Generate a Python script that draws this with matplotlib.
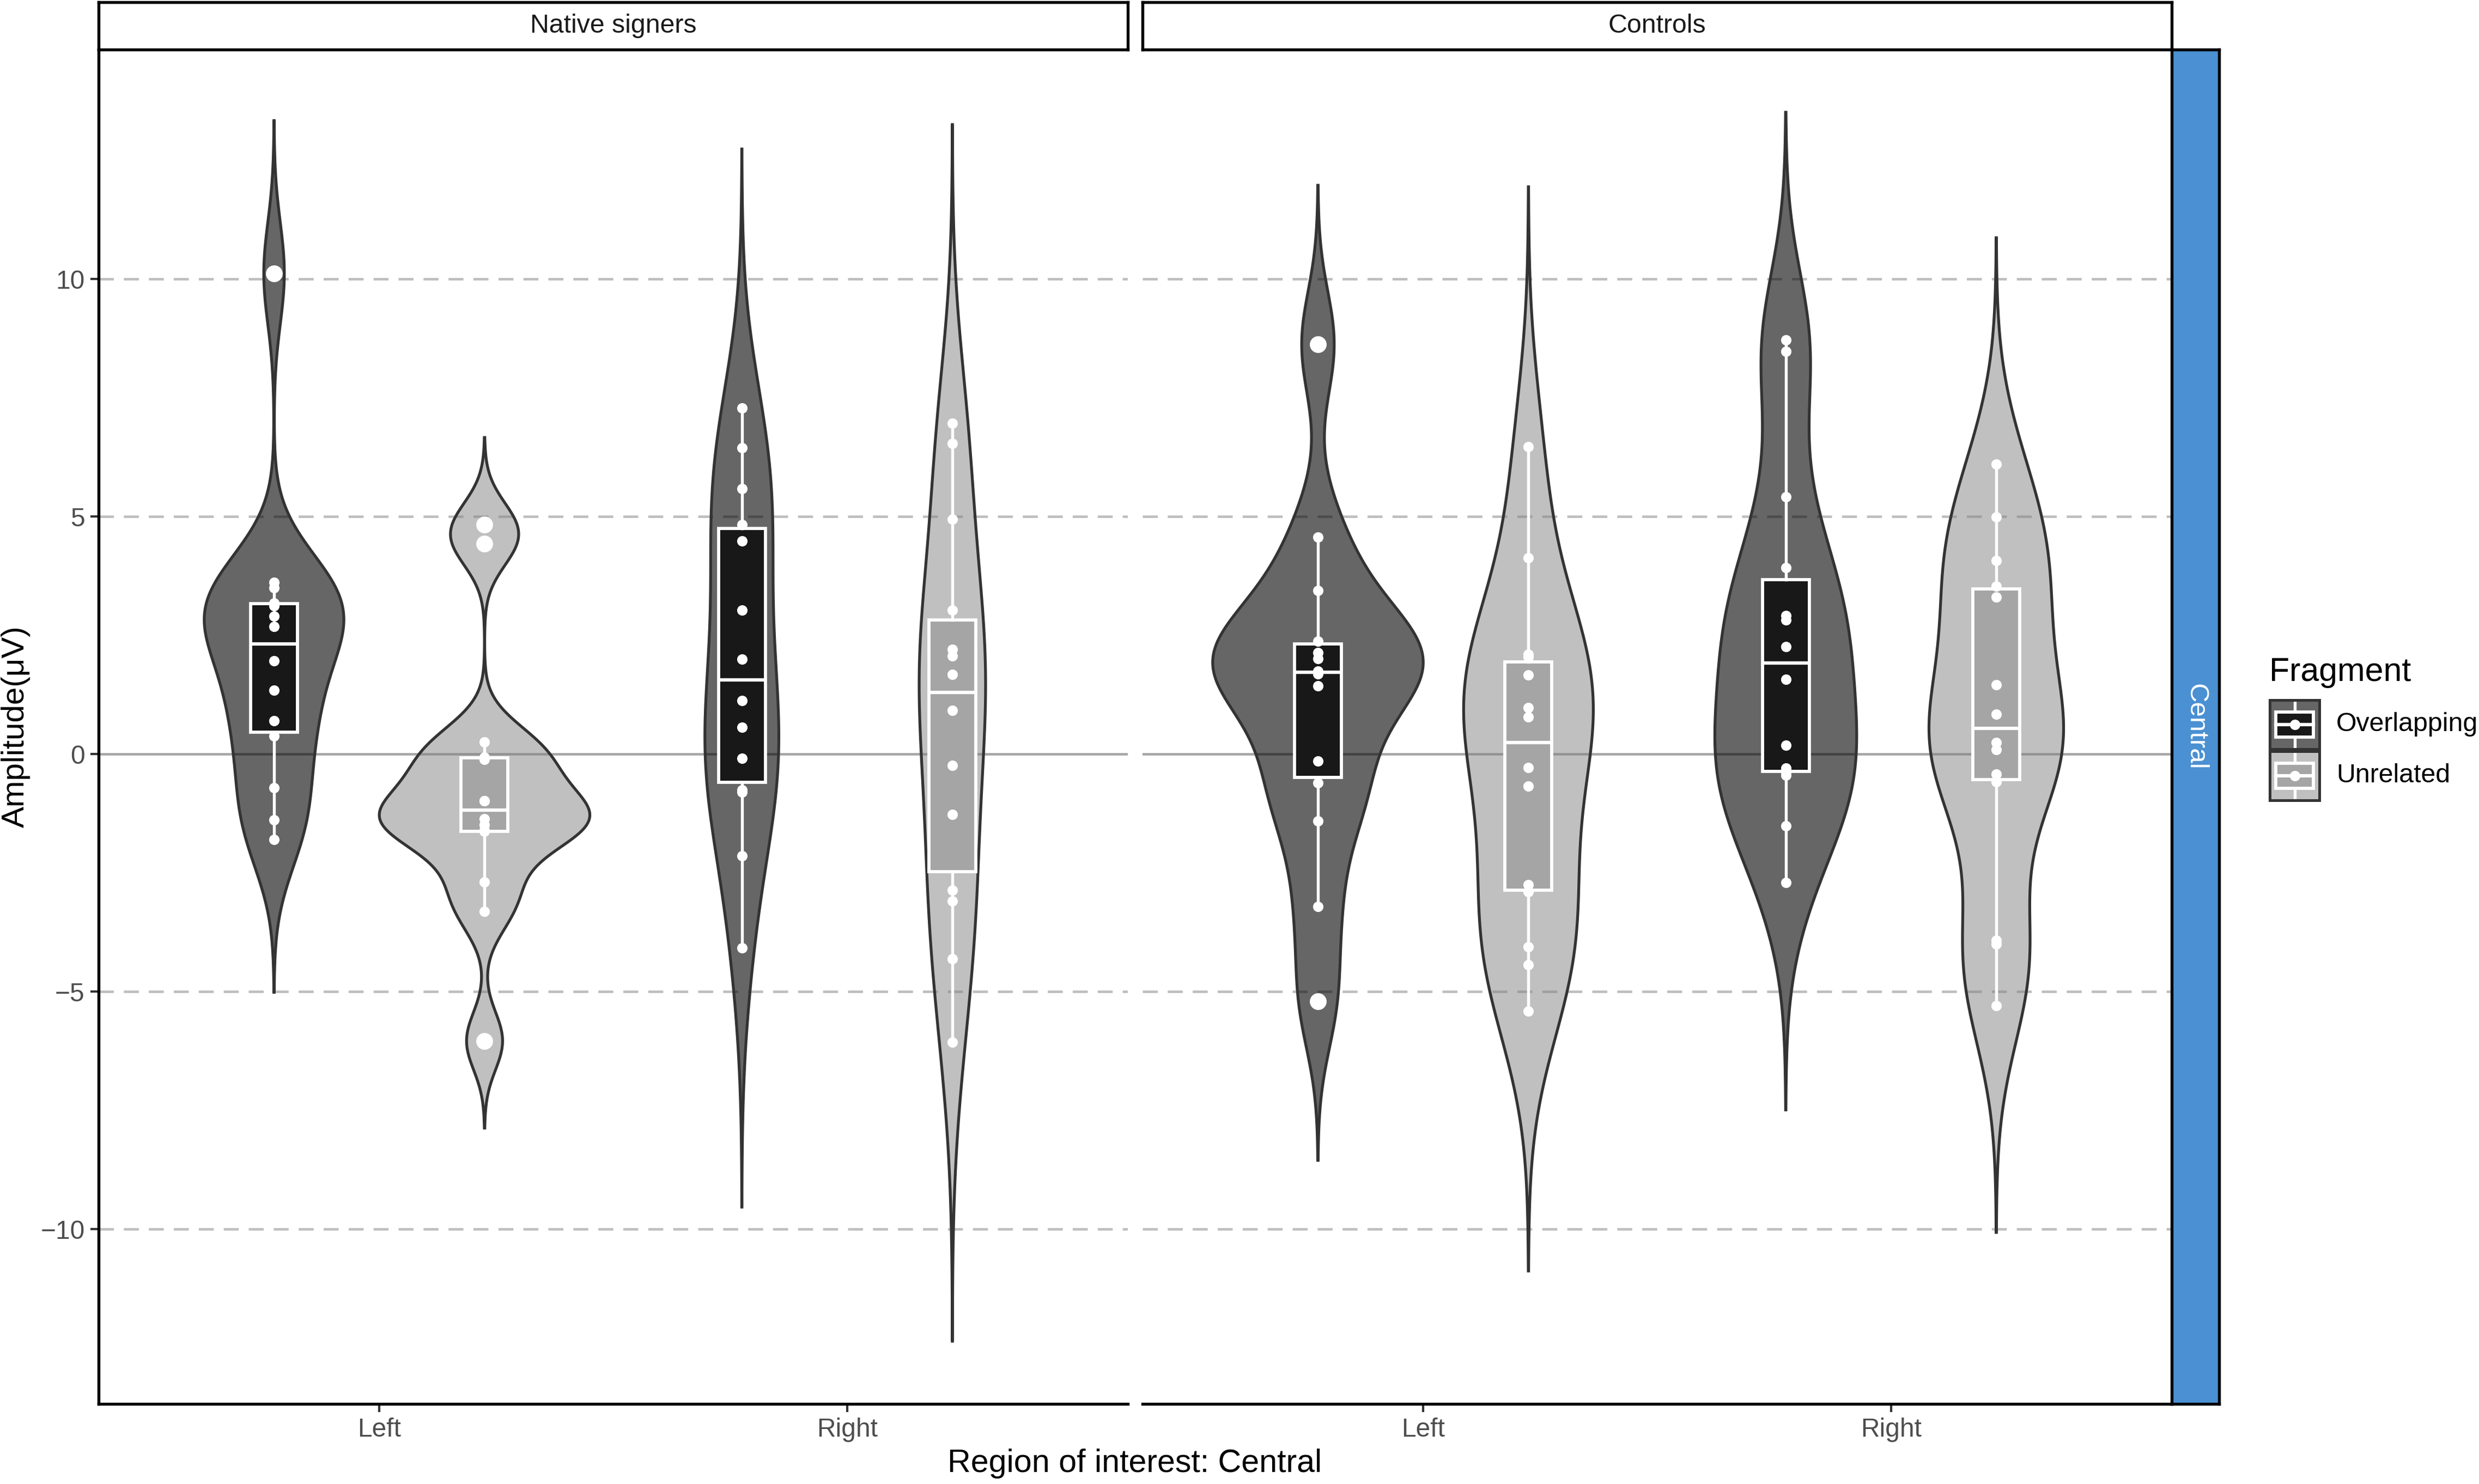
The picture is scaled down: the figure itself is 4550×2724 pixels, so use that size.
import numpy as np
import matplotlib
matplotlib.use("Agg")
import matplotlib.pyplot as plt
from matplotlib.patches import Rectangle, Polygon

plt.rcParams['font.family'] = ['Liberation Sans', 'DejaVu Sans']

# ---------------- data ----------------
groups = ["Native signers", "Controls"]
regions = ["Left", "Right"]
fragments = ["Overlapping", "Unrelated"]

native_left_overlapping = [10.12, 3.61, 3.50, 3.18, 3.12, 2.90, 2.68, 1.96, 1.34, 0.70, 0.38, -0.71, -1.39, -1.80]
native_left_unrelated = [4.83, 4.43, 0.25, -0.07, -0.11, -0.98, -0.99, -1.36, -1.49, -1.60, -1.63, -2.69, -3.31, -6.04]
native_right_overlapping = [7.28, 6.45, 5.59, 4.83, 4.49, 3.03, 2.00, 1.12, 0.56, -0.09, -0.76, -0.80, -2.14, -4.08]
native_right_unrelated = [6.96, 6.54, 4.95, 3.03, 2.20, 2.07, 1.68, 0.92, -0.24, -1.27, -2.87, -3.10, -4.31, -6.07]
controls_left_overlapping = [8.63, 4.57, 3.44, 2.38, 2.13, 2.01, 1.75, 1.69, 1.43, -0.15, -0.61, -1.41, -3.21, -5.21]
controls_left_unrelated = [6.47, 4.13, 2.10, 2.04, 1.66, 0.98, 0.78, -0.29, -0.68, -2.75, -2.90, -4.06, -4.44, -5.41]
controls_right_overlapping = [8.72, 8.48, 5.42, 3.92, 2.92, 2.82, 2.26, 1.57, 0.18, -0.30, -0.38, -0.45, -1.51, -2.70]
controls_right_unrelated = [6.10, 4.99, 4.07, 3.53, 3.30, 1.46, 0.84, 0.24, 0.09, -0.42, -0.58, -3.92, -4.00, -5.30]

panel_data = {
    "Native signers": {
        ("Left", "Overlapping"): native_left_overlapping,
        ("Left", "Unrelated"): native_left_unrelated,
        ("Right", "Overlapping"): native_right_overlapping,
        ("Right", "Unrelated"): native_right_unrelated,
    },
    "Controls": {
        ("Left", "Overlapping"): controls_left_overlapping,
        ("Left", "Unrelated"): controls_left_unrelated,
        ("Right", "Overlapping"): controls_right_overlapping,
        ("Right", "Unrelated"): controls_right_unrelated,
    },
}

y_ticks = [-10, -5, 0, 5, 10]

# ---------------- style ----------------
violin_fill = {"Overlapping": ("#000000", 0.60), "Unrelated": ("#828282", 0.50)}
box_fill = {"Overlapping": "#181818", "Unrelated": "#A5A5A5"}
outline = "#333333"

W, H, DPI = 4550, 2724, 300
fig = plt.figure(figsize=(W / DPI, H / DPI), dpi=DPI)
fig.patch.set_facecolor("white")


def fa(x0, y0, x1, y1):
    return [x0 / W, 1 - y1 / H, (x1 - x0) / W, (y1 - y0) / H]


def nrd0(x):
    x = np.asarray(x, float)
    sd = np.std(x, ddof=1)
    q75, q25 = np.percentile(x, [75, 25])
    lo = min(sd, (q75 - q25) / 1.34)
    if lo <= 0:
        lo = sd if sd > 0 else 1.0
    return 0.9 * lo * len(x) ** (-0.2)


def kde(x, bw, n=512, cut=3):
    x = np.asarray(x, float)
    grid = np.linspace(x.min() - cut * bw, x.max() + cut * bw, n)
    d = np.exp(-0.5 * ((grid[:, None] - x[None, :]) / bw) ** 2).sum(1) / (len(x) * bw * np.sqrt(2 * np.pi))
    return grid, d


panel_x = [(181, 2070), (2097, 3986)]
py0, py1 = 91, 2577
ylim = (-13.68, 14.83)
dodge = 0.225
pt_size = 4.6

for pi, grp in enumerate(groups):
    x0, x1 = panel_x[pi]
    ax = fig.add_axes(fa(x0, py0, x1, py1))
    ax.set_xlim(0.4, 2.6)
    ax.set_ylim(*ylim)
    ax.set_facecolor("white")

    for v in y_ticks:
        if v != 0:
            ax.axhline(v, color="#BEBEBE", lw=1.1, ls=(0, (6, 4)), zorder=0.5)
    ax.axhline(0, color="#A6A6A6", lw=1.1, zorder=0.6)

    dens = {}
    for ri, reg in enumerate(regions):
        for fi, frag in enumerate(fragments):
            vals = panel_data[grp][(reg, frag)]
            g, d = kde(vals, nrd0(vals))
            dens[(reg, frag)] = (g, d)
    maxd = max(d.max() for g, d in dens.values())

    for ri, reg in enumerate(regions):
        for fi, frag in enumerate(fragments):
            pos = (ri + 1) + (-dodge if fi == 0 else dodge)
            g, d = dens[(reg, frag)]
            w = d / maxd * dodge
            xs = np.concatenate([pos - w, (pos + w)[::-1]])
            ys = np.concatenate([g, g[::-1]])
            col, al = violin_fill[frag]
            ax.add_patch(Polygon(np.column_stack([xs, ys]), closed=True, facecolor=col,
                                 alpha=al, edgecolor="none", zorder=1))
            ax.add_patch(Polygon(np.column_stack([xs, ys]), closed=True, facecolor="none",
                                 edgecolor=outline, lw=1.25, zorder=1.1))

            vals = panel_data[grp][(reg, frag)]
            bp = ax.boxplot([vals], positions=[pos], widths=0.1, patch_artist=True,
                            showcaps=False, whis=1.5, manage_ticks=False,
                            boxprops=dict(facecolor=box_fill[frag], edgecolor="white", lw=1.4),
                            medianprops=dict(color="white", lw=1.5),
                            whiskerprops=dict(color="white", lw=1.3),
                            flierprops=dict(marker="o", markerfacecolor="white",
                                            markeredgecolor="white", markersize=6.4))
            for k in ("boxes", "medians", "whiskers", "fliers"):
                for art in bp[k]:
                    art.set_zorder(3)
            ax.scatter(np.full(len(vals), pos), vals, s=pt_size ** 2, c="white",
                       linewidths=0, zorder=4)

    for s in ("top", "right"):
        ax.spines[s].set_visible(False)
    ax.spines["bottom"].set_color("black")
    ax.spines["bottom"].set_linewidth(1.3)
    ax.spines["left"].set_color("black")
    ax.spines["left"].set_linewidth(1.3)

    ax.set_xticks([1, 2])
    ax.set_xticklabels(regions)
    ax.tick_params(axis="x", length=3.6, width=1.0, color="#333333",
                   labelsize=11.5, labelcolor="#4D4D4D", pad=2.5)
    if pi == 0:
        ax.set_yticks(y_ticks)
        ax.set_yticklabels([str(v).replace("-", "\u2212") for v in y_ticks])
        ax.tick_params(axis="y", length=3.6, width=1.0, color="#333333",
                       labelsize=11.5, labelcolor="#4D4D4D", pad=2.5)
    else:
        ax.spines["left"].set_visible(False)
        ax.set_yticks([])

    # top strip
    sax = fig.add_axes(fa(x0, 4, x1, 91))
    sax.set_xticks([]); sax.set_yticks([])
    sax.set_facecolor("white")
    for s in sax.spines.values():
        s.set_color("black"); s.set_linewidth(1.3)
    sax.text(0.5, 0.5, grp, ha="center", va="center", fontsize=11.6, color="#1A1A1A",
             transform=sax.transAxes)

# right strip
rax = fig.add_axes(fa(3986, py0, 4073, py1))
rax.set_xticks([]); rax.set_yticks([])
rax.set_facecolor("#4A90D2")
for s in rax.spines.values():
    s.set_color("black"); s.set_linewidth(1.3)
rax.text(0.5, 0.5, "Central", ha="center", va="center", rotation=-90, fontsize=11.8,
         color="white", transform=rax.transAxes)

# axis titles
fig.text(29 / W, 1 - 1334 / H, "Amplitude(\u03bcV)", rotation=90, ha="center", va="center",
         fontsize=14, color="black")
fig.text(2083 / W, 1 - 2687 / H, "Region of interest: Central", ha="center", va="center",
         fontsize=14.2, color="black")

# legend
fig.text(4165 / W, 1 - 1250 / H, "Fragment", ha="left", va="baseline", fontsize=14.6,
         color="black")
key_rows = [(1285, 1375), (1379, 1469)]
for (ky0, ky1), frag in zip(key_rows, fragments):
    kax = fig.add_axes(fa(4166, ky0, 4257, ky1))
    kax.set_xlim(0, 1); kax.set_ylim(0, 1)
    kax.set_xticks([]); kax.set_yticks([])
    kax.set_facecolor("white")
    col, al = violin_fill[frag]
    kax.add_patch(Rectangle((0, 0), 1, 1, facecolor=col, alpha=al, edgecolor="none", zorder=1))
    for s in kax.spines.values():
        s.set_color(outline); s.set_linewidth(1.2)
    kax.plot([0.5, 0.5], [0, 1], color="white", lw=1.3, zorder=2)
    kax.add_patch(Rectangle((0.125, 0.24), 0.75, 0.52, facecolor=box_fill[frag],
                            edgecolor="white", lw=1.4, zorder=3))
    kax.plot([0.125, 0.875], [0.5, 0.5], color="white", lw=1.5, zorder=4)
    kax.scatter([0.5], [0.5], s=pt_size ** 2, c="white", linewidths=0, zorder=5)
    fig.text(4288 / W, 1 - ((ky0 + ky1) / 2) / H, frag, ha="left", va="center",
             fontsize=11.6, color="black")

fig.savefig("out.png", dpi=DPI, facecolor="white")
